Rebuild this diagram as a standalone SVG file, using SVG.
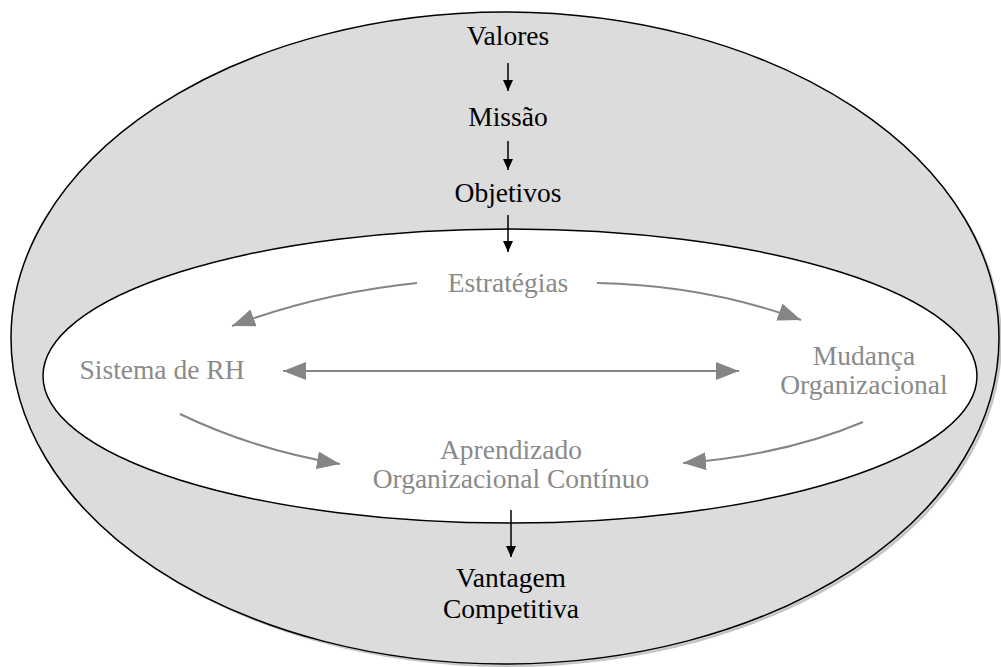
<svg xmlns="http://www.w3.org/2000/svg" width="1001" height="667" viewBox="0 0 1001 667">
<style>
.t{font-family:"Liberation Serif","Times New Roman",serif;font-size:27.5px;text-anchor:middle}
.dark{fill:#000}
.gray{fill:#8a8a8a}
.blk{stroke:#000;stroke-width:1.5;fill:none}
.gry{stroke:#858585;stroke-width:2;fill:none}
</style>
<defs>
<marker id="ab" markerUnits="userSpaceOnUse" markerWidth="12" markerHeight="10" refX="11" refY="5" orient="auto">
<path d="M0,0 L11,5 L0,10 Z" fill="#000"/>
</marker>
<marker id="ag" markerUnits="userSpaceOnUse" markerWidth="24" markerHeight="18" refX="23" refY="9" orient="auto">
<path d="M0,0 L23,9 L0,18 Z" fill="#858585"/>
</marker>
<marker id="ags" markerUnits="userSpaceOnUse" markerWidth="24" markerHeight="18" refX="0" refY="9" orient="auto">
<path d="M23,0 L0,9 L23,18 Z" fill="#858585"/>
</marker>
</defs>
<g id="background">
<ellipse cx="508" cy="341" rx="494" ry="326" fill="#c4c4c4"/>
<ellipse cx="506.5" cy="339.5" rx="494" ry="326" fill="#d2d2d2"/>
<ellipse cx="505" cy="338" rx="494" ry="326" fill="#dcdcdc" stroke="#000" stroke-width="1.5"/>
<ellipse cx="510" cy="376" rx="467" ry="147" fill="#fff" stroke="#000" stroke-width="1.5"/>
</g>
<g id="n-valores"><text class="t dark" x="508" y="45">Valores</text></g>
<g id="n-missao"><text class="t dark" x="508" y="126">Missão</text></g>
<g id="n-objetivos"><text class="t dark" x="508" y="202">Objetivos</text></g>
<g id="n-estrategias"><text class="t gray" x="508" y="292">Estratégias</text></g>
<g id="n-sistema"><text class="t gray" x="162" y="379">Sistema de RH</text></g>
<g id="n-mudanca"><text class="t gray" x="864" y="365">Mudança</text><text class="t gray" x="864" y="394">Organizacional</text></g>
<g id="n-aprendizado"><text class="t gray" x="511" y="459">Aprendizado</text><text class="t gray" x="511" y="488">Organizacional Contínuo</text></g>
<g id="n-vantagem"><text class="t dark" x="511" y="587">Vantagem</text><text class="t dark" x="511" y="618">Competitiva</text></g>
<g id="connectors">
<path class="blk" d="M508,63 L508,91" marker-end="url(#ab)"/>
<path class="blk" d="M508,141 L508,170" marker-end="url(#ab)"/>
<path class="blk" d="M508,215 L508,252" marker-end="url(#ab)"/>
<path class="blk" d="M511,510 L511,557" marker-end="url(#ab)"/>
<path class="gry" d="M417,283 Q320,293 232,326" marker-end="url(#ag)"/>
<path class="gry" d="M597,283 Q705,285 801,320" marker-end="url(#ag)"/>
<path class="gry" d="M283,371 L739,371" marker-start="url(#ags)" marker-end="url(#ag)"/>
<path class="gry" d="M180,414 Q255,450 340,464" marker-end="url(#ag)"/>
<path class="gry" d="M863,422 Q785,455 683,463" marker-end="url(#ag)"/>
</g>
</svg>
